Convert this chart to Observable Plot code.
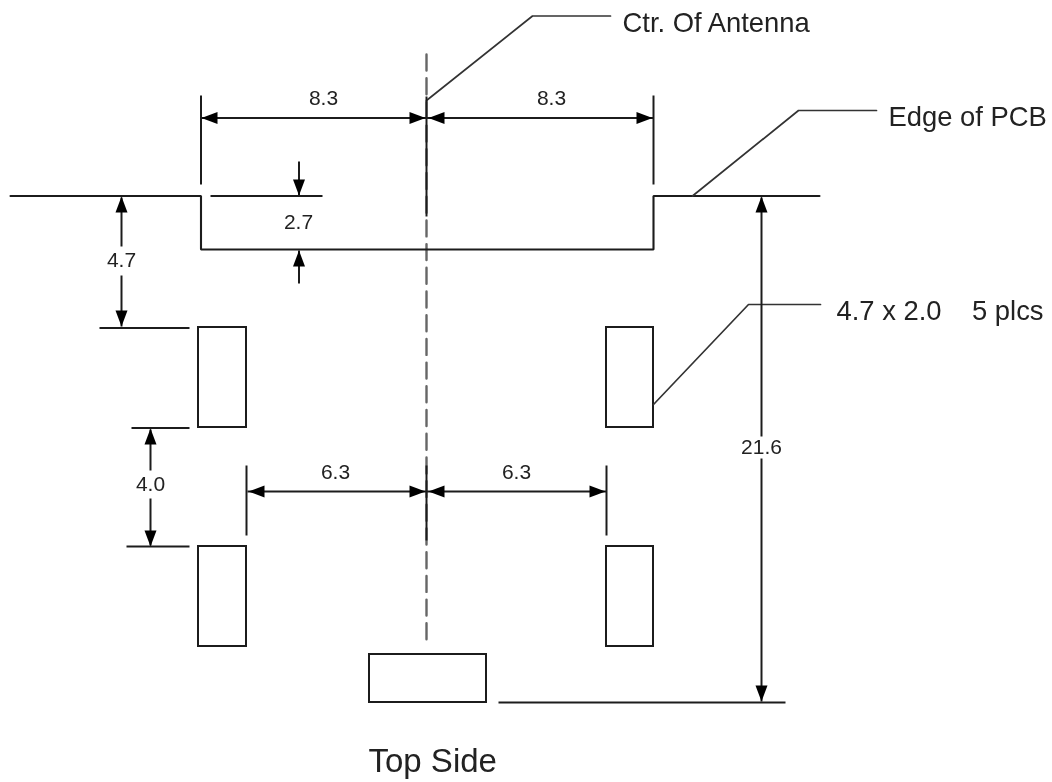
<!DOCTYPE html>
<html>
<head>
<meta charset="utf-8">
<style>html,body{margin:0;padding:0;background:#fff}svg{display:block}</style>
<script src="https://cdn.jsdelivr.net/npm/d3@7"></script>
<script src="https://cdn.jsdelivr.net/npm/@observablehq/plot@0.6"></script>
</head>
<body>
<div id="chart"></div>
<script>
// Drawing values, in the units of the x and y scales.
const outline = [[10,195.5],[200.5,195.5],[200.5,249],[653,249],[653,195.5],[819,195.5]];
const leaders = [
  [[426,100],[532,15.5],[610,15.5]],
  [[692,195.5],[798,110],[876,110]],
  [[653,404],[748,304],[820,304]]
];
const segments = [
  [210,195.5,322,195.5],
  [200.5,95,200.5,184],[653,95,653,184],[426,96,426,216],
  [200.5,117.5,426,117.5],[426,117.5,653,117.5],
  [298.5,161,298.5,195],[298.5,250,298.5,283],
  [121,197,121,246],[121,275,121,326],
  [99,327.5,189,327.5],[131,427.5,189,427.5],[126,546,189,546],
  [150,429,150,470],[150,498,150,545],
  [246,465,246,535],[606,465,606,535],[426,465,426,540],
  [247,491,426,491],[426,491,606,491],
  [761,197,761,436],[761,458,761,701],
  [498,702,785,702]
];
const centerline = [[426,54],[426,640]];
const pads = [
  [198,327,246,427],[606,327,653,427],
  [198,546,246,646],[606,546,653,646],
  [369,654,486,702]
];
const arrowTips = [
  [201,117.5,-90],[425,117.5,90],[428,117.5,-90],[652,117.5,90],
  [298.5,195,180],[298.5,250,0],
  [121,196,0],[121,326,180],
  [150,428,0],[150,546,180],
  [248,491,-90],[425,491,90],[428,491,-90],[605,491,90],
  [761,196,0],[761,701,180]
];
const labelText = ["8.3","8.3","2.7","4.7","4.0","6.3","6.3","21.6"];
const labelX    = [323,551,298,121,150,335,516,761];
const labelY    = [98,98,222,260,484,472,472,447];
const noteText  = ["Ctr. Of Antenna","Edge of PCB","4.7 x 2.0    5 plcs"];
const noteX     = [622,888,836];
const noteY     = [23,117,311];
const titleText = ["Top Side"];

const ink = "#1c1c1c";
const arrowHead = {
  draw(ctx) {
    ctx.moveTo(0, 0);
    ctx.lineTo(6, 16);
    ctx.lineTo(-6, 16);
    ctx.closePath();
  }
};

const chart = Plot.plot({
  width: 1052,
  height: 782,
  margin: 0,
  style: {background: "#fff", overflow: "visible", filter: "blur(0.45px)"},
  x: {domain: [0, 1052], range: [0, 1052], axis: null},
  y: {domain: [0, 782], range: [0, 782], axis: null},
  marks: [
    Plot.line(centerline, {
      x: d => d[0], y: d => d[1], stroke: "#666", strokeWidth: 2.4,
      strokeDasharray: "16 7.7"
    }),
    Plot.rect(pads, {
      x1: d => d[0], y1: d => d[1], x2: d => d[2], y2: d => d[3],
      fill: "none", stroke: ink, strokeWidth: 2
    }),
    Plot.line(outline, {
      x: d => d[0], y: d => d[1], stroke: ink, strokeWidth: 2.1, strokeLinejoin: "miter"
    }),
    ...leaders.map(l => Plot.line(l, {
      x: d => d[0], y: d => d[1], stroke: "#333", strokeWidth: 1.7
    })),
    Plot.link(segments, {
      x1: d => d[0], y1: d => d[1], x2: d => d[2], y2: d => d[3],
      stroke: ink, strokeWidth: 2
    }),
    Plot.dot(arrowTips, {
      x: d => d[0], y: d => d[1], rotate: d => d[2],
      symbol: arrowHead, r: 5, fill: "#000", stroke: "none"
    }),
    Plot.text(labelText, {
      x: (d, i) => labelX[i], y: (d, i) => labelY[i], text: d => d,
      fontFamily: "Liberation Sans", fontSize: 21, fill: "#222", textAnchor: "middle"
    }),
    Plot.text(noteText, {
      x: (d, i) => noteX[i], y: (d, i) => noteY[i], text: d => d,
      fontFamily: "Liberation Sans", fontSize: 27.4, fill: "#222", textAnchor: "start"
    }),
    Plot.text(titleText, {
      x: [368], y: [761], text: d => d,
      fontFamily: "Liberation Sans", fontSize: 33, fill: "#222", textAnchor: "start"
    })
  ]
});
document.getElementById("chart").appendChild(chart);
</script>
</body>
</html>
